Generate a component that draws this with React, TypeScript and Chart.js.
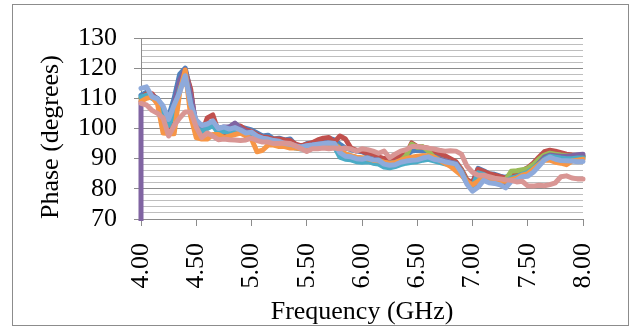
import React, { useEffect, useRef } from "react";
import { Chart, registerables } from "chart.js";

Chart.register(...registerables);

const FREQ = [
  4.0, 4.05, 4.1, 4.15, 4.2, 4.25, 4.3, 4.35, 4.4, 4.45,
  4.5, 4.55, 4.6, 4.65, 4.7, 4.75, 4.8, 4.85, 4.9, 4.95,
  5.0, 5.05, 5.1, 5.15, 5.2, 5.25, 5.3, 5.35, 5.4, 5.45,
  5.5, 5.55, 5.6, 5.65, 5.7, 5.75, 5.8, 5.85, 5.9, 5.95,
  6.0, 6.05, 6.1, 6.15, 6.2, 6.25, 6.3, 6.35, 6.4, 6.45,
  6.5, 6.55, 6.6, 6.65, 6.7, 6.75, 6.8, 6.85, 6.9, 6.95,
  7.0, 7.05, 7.1, 7.15, 7.2, 7.25, 7.3, 7.35, 7.4, 7.45,
  7.5, 7.55, 7.6, 7.65, 7.7, 7.75, 7.8, 7.85, 7.9, 7.95, 8.0,
];

const X_TICKS = [4.0, 4.5, 5.0, 5.5, 6.0, 6.5, 7.0, 7.5, 8.0];
const Y_MIN = 70;
const Y_MAX = 130;

const S_BLUE = [
  111, 112, 111, 110, 106, 104, 110, 118, 120, 112,
  100, 99.5, 100.5, 102.5, 99.5, 100, 100.5, 101.5, 100.5, 100,
  99.5, 98.5, 97.5, 97.8, 96.5, 96.8, 96.2, 96.5, 94.5, 94,
  95, 95.2, 95.8, 96.5, 96.8, 96.2, 94.8, 93.5, 93, 92.5,
  92.3, 91.5, 90.8, 90.5, 89.5, 89.8, 90, 90.5, 91, 92.5,
  92.8, 92.5, 92.6, 91.8, 91, 90.5, 89.5, 88.5, 86, 82.5,
  81.8, 86.8, 86, 85, 84.8, 84.2, 83.8, 84.8, 85.5, 86,
  86.8, 88, 89.5, 91.2, 92, 91.8, 91.5, 91.2, 91, 91, 91,
];

const S_RED = [
  110, 111.5, 111.5, 109, 104, 100, 106, 114, 119, 113,
  99, 98.5, 103.5, 104.5, 99, 98.5, 99.5, 100.5, 100.8, 99.5,
  99, 98, 97.2, 97, 96.5, 96.5, 96.2, 96, 94.8, 94.2,
  94.8, 95.3, 96.2, 96.8, 97, 95.5, 97.5, 96.5, 93.5, 92.8,
  92.5, 91.8, 91, 90.6, 90, 90.3, 90.5, 91, 91.5, 95.2,
  94, 93.8, 93.5, 92.5, 91.8, 91, 90, 89, 86.5, 83,
  82, 86.5, 85.8, 85, 84.5, 84, 83.5, 84.5, 85.2, 86,
  87, 88.5, 90.5, 92.3, 92.8, 92.5, 92, 91.5, 91.2, 91, 90.8,
];

const S_GREEN = [
  110, 111, 110.8, 109.5, 104.5, 101.5, 107, 115, 119, 110,
  99.5, 99, 100.5, 101, 99.2, 99.5, 99.5, 99.8, 99.3, 98.5,
  98.5, 97.3, 96.6, 96.3, 95.8, 95.5, 94.9, 94.6, 94, 93.7,
  94.2, 94.4, 94.7, 94.9, 95.1, 95, 93.5, 91.5, 90.8, 90.3,
  90, 90.3, 89.8, 89.6, 88.6, 88.4, 88.6, 89.3, 91, 94.8,
  93.8, 94, 92.5, 90.5, 89.8, 89.3, 88.8, 88.4, 86, 82.3,
  80.8, 84, 84.3, 83.5, 83.2, 83, 83, 85.8, 86, 86.3,
  86.8, 88, 89.8, 91.2, 91.8, 91.5, 91.2, 91, 90.8, 90.6, 90.6,
];

const PURPLE_FIRST = 0;
const S_PURPLE = [
  109, 110.5, 111, 109.5, 105, 102, 108, 116, 119.5, 111,
  101.5, 100.5, 101, 102, 100, 100.5, 100.5, 101.8, 100, 99,
  98.6, 97.5, 96.8, 96.4, 96, 95.6, 95, 94.6, 94.2, 93.8,
  94.2, 94.5, 94.8, 95, 95.2, 95, 92.5, 91.2, 90.8, 90.3,
  90, 90.3, 89.8, 89.6, 88.5, 88.2, 88.4, 89, 89.5, 89.8,
  90, 90.5, 90.8, 90, 89.8, 89.3, 88.8, 88.4, 85.8, 82,
  80, 83.5, 83.5, 82.8, 82.5, 82, 81.5, 83, 83.5, 84.5,
  85, 86.5, 88.5, 90.5, 91.2, 91, 90.8, 90.8, 91, 91.3, 91.5,
];

const S_TEAL = [
  110.5, 111, 110, 109, 105, 101, 105, 113, 118, 108,
  100, 99, 100, 101, 98.5, 99, 98.8, 99, 98.8, 98,
  97.8, 96.5, 95.8, 95.5, 95.2, 95, 94.5, 94.2, 93.5, 93.2,
  93.5, 93.8, 94, 94.2, 94.5, 94, 90.5, 89.8, 89.6, 89,
  88.8, 89, 88.5, 88.2, 87.2, 87, 87.4, 88, 88.5, 88.8,
  89, 89.5, 89.8, 89.3, 88.8, 88.3, 88, 87.5, 85, 82,
  80.7, 85.3, 84.8, 83.5, 83, 82.8, 82.5, 83.5, 84, 84.8,
  85.5, 86.8, 88.2, 89.8, 90.8, 90.5, 90.2, 90, 90, 90.2, 90.2,
];

const S_ORANGE = [
  109, 110, 110.5, 108, 98.5, 98.3, 98.3, 112, 119.4, 104,
  97, 96.5, 96.5, 98, 98, 97, 97.5, 98, 98.5, 97.5,
  96.5, 92.3, 92.8, 94.5, 94.5, 94, 94, 93.5, 93.5, 93.3,
  93.8, 94, 94.5, 94.5, 94.8, 94.5, 93.5, 91.5, 91, 90.5,
  90.3, 90, 89.5, 89.3, 88.8, 88.5, 88.7, 89.5, 90, 90.5,
  90.8, 91, 91, 90.5, 89.5, 88.5, 87.5, 86, 84.5, 82.5,
  81.3, 82.5, 84, 83.5, 83, 82.5, 82.5, 83, 83.5, 84.5,
  85, 86.5, 88, 89.5, 89.5, 88.8, 88.5, 88, 89.2, 89.5, 89.8,
];

const S_LIGHTBLUE = [
  113.3, 113.8, 110.5, 109.8, 107.5, 103, 107.8, 112, 117.5, 108,
  102.8, 101, 101.5, 102.5, 100, 100.5, 99.8, 100.3, 99.5, 98.5,
  98.8, 97.5, 96.8, 96.5, 96, 95.8, 95, 94.8, 94.2, 93.9,
  94.3, 94.5, 94.8, 95, 95.2, 95, 92, 90.8, 90.6, 90,
  89.8, 90.2, 89.6, 89.5, 88.2, 87.8, 88, 88.8, 89.2, 89.5,
  89.6, 90.2, 90.6, 89.8, 89.5, 89, 88.6, 88.2, 85.5, 81.5,
  79.2, 80.5, 82.8, 82, 81.8, 81.3, 80.3, 82.5, 82.9, 84,
  84.2, 85.5, 87.5, 89.5, 90.5, 89.8, 89.4, 89.3, 89.2, 89, 89.1,
];

const S_PINK = [
  108.3, 107.8, 106, 105, 103.5, 97.5, 101, 103.5, 105.5, 105.5,
  100.5, 97, 98.5, 97.5, 96.3, 96.5, 96.3, 96.2, 96, 96.2,
  96.8, 96, 95.5, 95.5, 95, 95, 95.2, 95, 94.2, 93.3,
  92.4, 93.3, 93.3, 93.5, 93.3, 93.5, 93.3, 93.5, 93.2, 92.5,
  93.3, 93, 92.5, 91.8, 92.5, 90.3, 91.5, 92.5, 93, 94,
  94, 93.8, 93.5, 93.2, 92.8, 92.5, 92.6, 92.5, 91.5, 87.5,
  85.5, 84.5, 84.5, 84, 83.5, 83.3, 83, 82.8, 82.3, 82.5,
  81, 80.9, 81.2, 81, 81.4, 82, 84, 84.3, 83.6, 83.3, 83.3,
];

const SERIES_NAMES = ["S1", "S2", "S3", "S4", "S5", "S6", "S7", "S8"];
const SERIES_COLORS = ["#4F81BD", "#C0504D", "#9BBB59", "#8064A2", "#4BACC6", "#F79646", "#8EAADB", "#D99694"];

const FONT = "'Liberation Serif', 'Times New Roman', serif";
const MAJOR = "#8C8C8C";
const MINOR = "#BEBEBE";

export default function App() {
  const ref = useRef<HTMLCanvasElement | null>(null);

  useEffect(() => {
    if (!ref.current) return;
    const toXY = (vals: number[]) => FREQ.map((f, i) => ({ x: f, y: vals[i] }));
    const purpleData = [{ x: FREQ[0], y: PURPLE_FIRST }, ...toXY(S_PURPLE)];
    const all = [toXY(S_BLUE), toXY(S_RED), toXY(S_GREEN), purpleData, toXY(S_TEAL), toXY(S_ORANGE), toXY(S_LIGHTBLUE), toXY(S_PINK)];
    const datasets = all.map((d, i) => ({
      label: SERIES_NAMES[i],
      data: d,
      borderColor: SERIES_COLORS[i],
      backgroundColor: SERIES_COLORS[i],
      borderWidth: 5,
      pointRadius: 0,
      tension: 0,
      borderJoinStyle: "round" as const,
      borderCapStyle: "round" as const,
      clip: { left: 3, right: 3, top: 3, bottom: 2 },
      order: all.length - i,
    }));

    const chart = new Chart(ref.current, {
      type: "line",
      data: { datasets },
      options: {
        animation: false,
        responsive: false,
        devicePixelRatio: 1,
        layout: { padding: { top: 38, right: 49, left: 0, bottom: 0 } },
        plugins: { legend: { display: false }, tooltip: { enabled: false } },
        scales: {
          x: {
            type: "linear",
            min: 4,
            max: 8,
            afterBuildTicks: (scale: any) => {
              scale.ticks = X_TICKS.map((v) => ({ value: v }));
            },
            afterFit: (scale: any) => {
              scale.height = 110;
            },
            ticks: {
              autoSkip: false,
              minRotation: 90,
              maxRotation: 90,
              padding: 17,
              color: "#000",
              font: { family: FONT, size: 26 },
              callback: (v: any) => Number(v).toFixed(2),
            },
            grid: { drawOnChartArea: false, drawTicks: true, tickLength: 7, color: MAJOR },
            border: { display: true, color: MAJOR },
            title: {
              display: true,
              text: "Frequency (GHz)",
              color: "#000",
              font: { family: FONT, size: 26 },
              padding: { top: 0, bottom: 1 },
            },
          },
          y: {
            min: Y_MIN,
            max: Y_MAX,
            afterFit: (scale: any) => {
              scale.width = 141;
            },
            ticks: {
              stepSize: 2,
              autoSkip: false,
              padding: 17,
              color: "#000",
              font: { family: FONT, size: 26 },
              callback: (v: any) => (Number(v) % 10 === 0 ? String(v) : ""),
            },
            grid: {
              tickLength: 7,
              color: (ctx: any) => (ctx.tick && ctx.tick.value % 10 === 0 ? MAJOR : MINOR),
              tickColor: (ctx: any) => (ctx.tick && ctx.tick.value % 10 === 0 ? MAJOR : "rgba(0,0,0,0)"),
              lineWidth: 1,
            },
            border: { display: true, color: MAJOR },
            title: {
              display: true,
              text: "Phase (degrees)",
              align: "start",
              color: "#000",
              font: { family: FONT, size: 26 },
              padding: { top: 36, bottom: 0 },
            },
          },
        },
      },
    });
    return () => chart.destroy();
  }, []);

  return (
    <div style={{ position: "absolute", left: 0, top: 0, width: 632, height: 329, background: "#fff" }}>
      <canvas ref={ref} width={632} height={329} style={{ display: "block", width: 632, height: 329 }} />
      <div
        style={{
          position: "absolute",
          left: 12,
          top: 4,
          width: 617,
          height: 322,
          border: "1px solid #8C8C8C",
          boxSizing: "border-box",
          pointerEvents: "none",
        }}
      />
    </div>
  );
}
